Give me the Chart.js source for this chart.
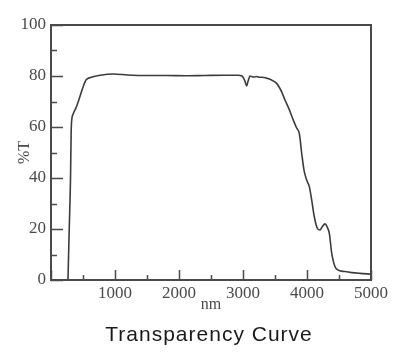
<!DOCTYPE html>
<html>
<head>
<meta charset="utf-8">
<script src="https://cdn.jsdelivr.net/npm/chart.js@4"></script>
<style>
  html, body { margin: 0; padding: 0; background: #fff; }
  #wrap { width: 399px; height: 356px; position: relative; }
</style>
</head>
<body>
<div id="wrap"><canvas id="chart"></canvas></div>
<script>
// wavelength (nm) and transmittance (%T)
const wavelength = [265, 285, 305, 315, 325, 345, 390, 440, 505, 550, 630, 770, 970, 1200, 1500, 1800, 2100, 2400, 2700, 2920,
  2990, 3030, 3057, 3080, 3110, 3140, 3170, 3214, 3260, 3300, 3360, 3422, 3526, 3604, 3656, 3720, 3786, 3840, 3880, 3917,
  3953, 3995, 4036, 4073, 4114, 4161, 4203, 4240, 4281, 4320, 4349, 4386, 4438, 4489, 4594, 4700, 4828, 5000];
const transmittance = [0, 20, 40, 58, 63, 65, 67.5, 71, 76, 78.5, 79.5, 80.3, 80.8, 80.4, 80.2, 80.2, 80.1, 80.2, 80.3, 80.3,
  79.9, 78, 76.1, 78, 80, 79.7, 79.6, 79.8, 79.5, 79.5, 79.2, 78.7, 77.1, 73.8, 70.6, 67, 62.7, 59.5, 57.5, 49.7,
  43.1, 39.2, 36.6, 31.4, 24.8, 20.3, 19.6, 21, 22, 20.5, 18.3, 10.5, 5.2, 3.9, 3.3, 2.9, 2.6, 2.3];

const xTicks = [0, 1000, 2000, 3000, 4000, 5000];
const yTicks = [0, 20, 40, 60, 80, 100];
const xMinorStep = 500;
const yMinorStep = 10;
const chartTitle = "Transparency Curve";

const axisColor = "#4a4a4a";
const serif = "'Liberation Serif', 'Times New Roman', serif";

// inward tick marks + closed frame, like the original plot
const framePlugin = {
  id: "frame",
  afterDraw(chart) {
    const { ctx, chartArea: a, scales } = chart;
    ctx.save();
    ctx.strokeStyle = axisColor;
    ctx.lineWidth = 1.5;
    ctx.beginPath();
    for (let v = 0; v <= 5000; v += xMinorStep) {
      const px = Math.round(scales.x.getPixelForValue(v)) + 0.5;
      const len = xTicks.includes(v) ? 10 : 5;
      ctx.moveTo(px, a.bottom);
      ctx.lineTo(px, a.bottom - len);
    }
    for (let v = 0; v <= 100; v += yMinorStep) {
      const py = Math.round(scales.y.getPixelForValue(v)) + 0.5;
      const len = yTicks.includes(v) ? 12 : 6;
      ctx.moveTo(a.left, py);
      ctx.lineTo(a.left + len, py);
    }
    ctx.stroke();
    ctx.lineWidth = 2;
    ctx.strokeRect(a.left, a.top, a.right - a.left, a.bottom - a.top);

    // caption under the plot
    ctx.fillStyle = "#1a1a1a";
    ctx.font = "21px 'Liberation Sans', Arial, sans-serif";
    ctx.letterSpacing = "1px";
    ctx.textAlign = "center";
    ctx.textBaseline = "alphabetic";
    ctx.fillText(chartTitle, 209, 341);
    ctx.restore();
  }
};

new Chart(document.getElementById("chart"), {
  type: "line",
  data: {
    datasets: [{
      data: wavelength.map((w, i) => ({ x: w, y: transmittance[i] })),
      borderColor: "#3c3c3c",
      borderWidth: 1.6,
      pointRadius: 0,
      fill: false,
      cubicInterpolationMode: "monotone"
    }]
  },
  options: {
    responsive: true,
    maintainAspectRatio: false,
    animation: false,
    layout: { padding: { top: 25, right: 28, left: 0, bottom: 39 } },
    plugins: {
      legend: { display: false },
      tooltip: { enabled: false },
      title: { display: false }
    },
    scales: {
      x: {
        type: "linear",
        min: 0,
        max: 5000,
        afterFit(scale) { scale.height = 37; },
        afterBuildTicks(scale) { scale.ticks = xTicks.map(v => ({ value: v })); },
        grid: { display: false, drawTicks: false },
        border: { display: false },
        ticks: {
          padding: 3,
          color: axisColor,
          font: { family: serif, size: 17 },
          callback: v => (v === 0 ? "" : v)
        },
        title: {
          display: true,
          text: "nm",
          color: axisColor,
          font: { family: serif, size: 16 },
          padding: { top: 0, bottom: 3 }
        }
      },
      y: {
        min: 0,
        max: 100,
        afterFit(scale) { scale.width = 51; },
        afterBuildTicks(scale) { scale.ticks = yTicks.map(v => ({ value: v })); },
        grid: { display: false, drawTicks: false },
        border: { display: false },
        ticks: {
          padding: 5,
          color: axisColor,
          font: { family: serif, size: 17 }
        },
        title: {
          display: true,
          text: "%T",
          color: axisColor,
          font: { family: serif, size: 16 },
          padding: { top: 15, bottom: 0 }
        }
      }
    }
  },
  plugins: [framePlugin]
});
</script>
</body>
</html>
